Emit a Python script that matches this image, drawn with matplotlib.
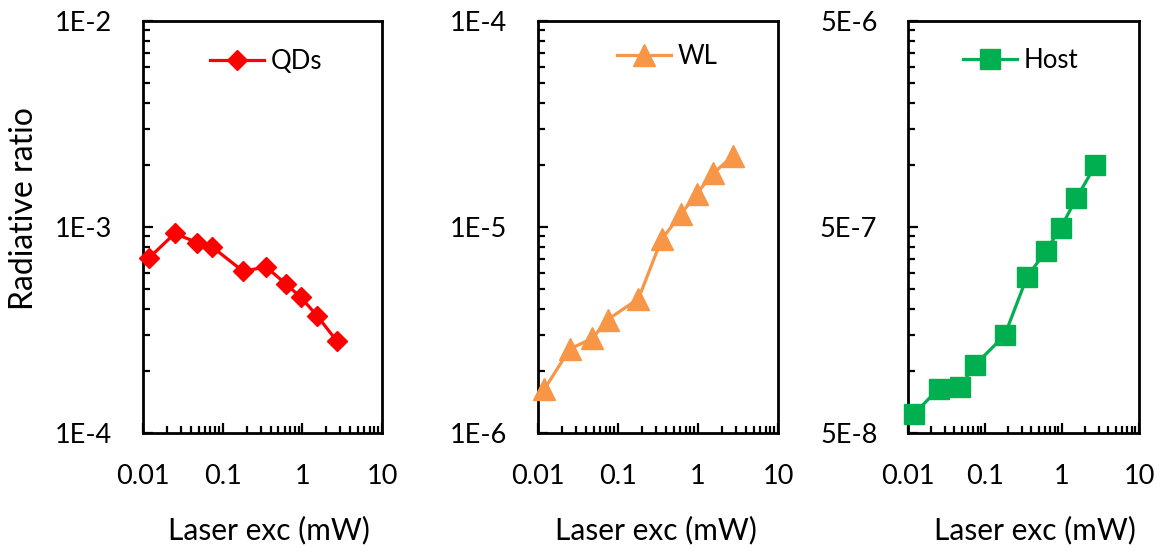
import numpy as np
import matplotlib

matplotlib.use("Agg")
import matplotlib.pyplot as plt
from matplotlib.ticker import FixedLocator, FixedFormatter, NullFormatter

plt.rcParams["font.family"] = ["Lato", "DejaVu Sans"]

# laser excitation power (mW), shared by all three panels
laser_mw = [0.012, 0.025, 0.048, 0.074, 0.18, 0.35, 0.62, 0.96, 1.54, 2.7]
qds = [7.1e-4, 9.3e-4, 8.4e-4, 8.0e-4, 6.1e-4, 6.4e-4, 5.3e-4, 4.55e-4, 3.7e-4, 2.8e-4]
wl = [1.63e-6, 2.56e-6, 2.88e-6, 3.55e-6, 4.48e-6, 8.7e-6, 1.16e-5, 1.45e-5, 1.82e-5, 2.2e-5]
host = [6.2e-8, 8.2e-8, 8.4e-8, 1.07e-7, 1.49e-7, 2.85e-7, 3.84e-7, 4.94e-7, 6.9e-7, 9.95e-7]

x_ticks = [0.01, 0.1, 1, 10]
x_labels = ["0.01", "0.1", "1", "10"]

panels = [
    dict(y=qds, name="QDs", color="#FF0000", marker="D", ms=10.5,
         yticks=[1e-4, 1e-3, 1e-2], ylabels=["1E-4", "1E-3", "1E-2"]),
    dict(y=wl, name="WL", color="#F79646", marker="^", ms=15.5,
         yticks=[1e-6, 1e-5, 1e-4], ylabels=["1E-6", "1E-5", "1E-4"]),
    dict(y=host, name="Host", color="#00B050", marker="s", ms=14.5,
         yticks=[5e-8, 5e-7, 5e-6], ylabels=["5E-8", "5E-7", "5E-6"]),
]

W, H = 1165, 552
ax_px = [(143, 382), (538, 778), (908, 1139)]
top_px, bot_px = 21, 433
leg_anchor = [(0.280, 0.901), (0.329, 0.915), (0.237, 0.904)]
xlab_cx = [0.527, 0.491, 0.55]

fig = plt.figure(figsize=(W / 100, H / 100), dpi=100)
for i, p in enumerate(panels):
    l, r = ax_px[i]
    ax = fig.add_axes([l / W, 1 - bot_px / H, (r - l) / W, (bot_px - top_px) / H])
    ax.plot(laser_mw, p["y"], color=p["color"], lw=2.3, marker=p["marker"],
            ms=p["ms"], mec=p["color"], mfc=p["color"], label=p["name"], clip_on=False, zorder=3)
    ax.set_xscale("log")
    ax.set_yscale("log")
    ax.set_xlim(0.01, 10)
    lo, hi = p["yticks"][0], p["yticks"][-1]
    ax.set_ylim(lo, hi)

    ax.xaxis.set_major_locator(FixedLocator(x_ticks))
    ax.xaxis.set_major_formatter(FixedFormatter(x_labels))
    ax.xaxis.set_minor_locator(FixedLocator([d * k for d in x_ticks[:-1] for k in range(2, 10)]))
    ax.xaxis.set_minor_formatter(NullFormatter())
    ax.yaxis.set_major_locator(FixedLocator(p["yticks"]))
    ax.yaxis.set_major_formatter(FixedFormatter(p["ylabels"]))
    ax.yaxis.set_minor_locator(FixedLocator([d * k for d in p["yticks"][:-1] for k in range(2, 10)]))
    ax.yaxis.set_minor_formatter(NullFormatter())

    ax.tick_params(which="both", direction="in", top=False, right=False, width=1.6, color="black")
    ax.tick_params(which="major", length=7)
    ax.tick_params(which="minor", length=5)
    ax.tick_params(axis="x", which="major", pad=22, labelsize=19.5)
    ax.tick_params(axis="y", which="major", pad=22, labelsize=19.5)
    for s in ax.spines.values():
        s.set_linewidth(2)

    ax.set_xlabel("Laser exc (mW)", fontsize=21.5)
    ax.xaxis.set_label_coords(xlab_cx[i], -0.2)

    ax.legend(loc="center left", bbox_to_anchor=leg_anchor[i], frameon=False,
              fontsize=18.5, borderpad=0, borderaxespad=0, handlelength=2.1,
              handletextpad=0.25)

fig.text(24 / W, 1 - 209 / H, "Radiative ratio", rotation=90, fontsize=23,
         ha="center", va="center")

fig.savefig("out.png", dpi=100)
